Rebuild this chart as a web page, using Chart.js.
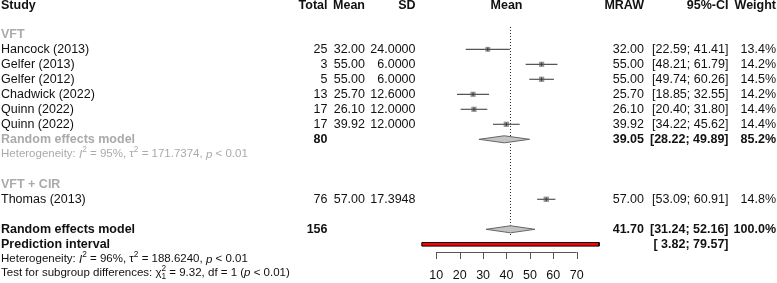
<!DOCTYPE html>
<html>
<head>
<meta charset="utf-8" />
<title>Forest plot</title>
<script src="https://cdn.jsdelivr.net/npm/chart.js@4.4.0/dist/chart.umd.min.js"></script>
<style>
    body { margin: 0; background: #fff; }
    canvas { display: block; }
</style>
</head>
<body>
<canvas id="chart" width="777" height="283"></canvas>
<script>
// Study level data
var studies = ['Hancock (2013)', 'Gelfer (2013)', 'Gelfer (2012)', 'Chadwick (2022)', 'Quinn (2022)', 'Quinn (2022)', 'Thomas (2013)'];
var groups = ['VFT', 'VFT', 'VFT', 'VFT', 'VFT', 'VFT', 'VFT + CIR'];
var totals = [25, 3, 5, 13, 17, 17, 76];
var means = [32.00, 55.00, 55.00, 25.70, 26.10, 39.92, 57.00];
var sds = [24.0000, 6.0000, 6.0000, 12.6000, 12.0000, 12.0000, 17.3948];
var ciLow = [22.59, 48.21, 49.74, 18.85, 20.40, 34.22, 53.09];
var ciHigh = [41.41, 61.79, 60.26, 32.55, 31.80, 45.62, 60.91];
var weights = [13.4, 14.2, 14.5, 14.2, 14.4, 14.4, 14.8];

// Pooled estimates
var subgroupTotal = 80;
var subgroupEst = [39.05, 28.22, 49.89];   // estimate, lower, upper
var subgroupWeight = 85.2;
var overallTotal = 156;
var overallEst = [41.70, 31.24, 52.16];
var overallWeight = 100.0;
var predInterval = [3.82, 79.57];

var axisTicks = [10, 20, 30, 40, 50, 60, 70];
var headers = ['Study', 'Total', 'Mean', 'SD', 'Mean', 'MRAW', '95%-CI', 'Weight'];

// Row layout (row 0 = "VFT" label, 15px per row)
var studyRows = [1, 2, 3, 4, 5, 6, 11];
var ROW_HEAD = -1.93, ROW_G1 = 0, ROW_SUB = 7, ROW_HET1 = 8, ROW_G2 = 10;
var ROW_ALL = 13, ROW_PI = 14, ROW_HET = 15, ROW_TEST = 15.9;

var GREY = '#aaaaaa';
var INK = '#111111';
var FONT = '"Liberation Sans", Arial, sans-serif';

function diamond(est, row, h) {
    return [
        {x: est[1], y: row}, {x: est[0], y: row - h},
        {x: est[2], y: row}, {x: est[0], y: row + h}, {x: est[1], y: row}
    ];
}

var datasets = [];

// reference line at the overall estimate
datasets.push({
    data: [{x: overallEst[0], y: -0.49}, {x: overallEst[0], y: 13.46}],
    showLine: true, borderColor: '#222', borderWidth: 1, borderDash: [1, 2],
    pointRadius: 0, order: 10
});

// squares
datasets.push({
    data: studies.map((s, i) => ({x: means[i], y: studyRows[i]})),
    pointStyle: 'rect',
    pointRadius: weights.map(w => w * 0.26),
    backgroundColor: '#9a9a9a', borderColor: '#9a9a9a', borderWidth: 0,
    order: 8
});

// confidence interval lines
studies.forEach((s, i) => {
    datasets.push({
        data: [{x: ciLow[i], y: studyRows[i]}, {x: ciHigh[i], y: studyRows[i]}],
        showLine: true, borderColor: '#555', borderWidth: 1.2,
        pointRadius: 0, order: 6
    });
});

// small mark at the point estimate
datasets.push({
    data: studies.map((s, i) => ({x: means[i], y: studyRows[i]})),
    pointStyle: 'line', rotation: 90, pointRadius: 1.8,
    borderColor: '#333', borderWidth: 1, order: 5
});

// diamonds
[[subgroupEst, ROW_SUB], [overallEst, ROW_ALL]].forEach(d => {
    datasets.push({
        data: diamond(d[0], d[1], 0.235),
        showLine: true, fill: 'shape', backgroundColor: '#c4c4c4',
        borderColor: '#666', borderWidth: 1, pointRadius: 0, order: 4
    });
});

// prediction interval bar
datasets.push({
    data: [
        {x: predInterval[0], y: ROW_PI - 0.12}, {x: predInterval[1], y: ROW_PI - 0.12},
        {x: predInterval[1], y: ROW_PI + 0.12}, {x: predInterval[0], y: ROW_PI + 0.12},
        {x: predInterval[0], y: ROW_PI - 0.12}
    ],
    showLine: true, fill: 'shape', backgroundColor: '#ff0000',
    borderColor: '#000', borderWidth: 1, pointRadius: 0, order: 3
});

function drawRich(ctx, x, y, parts, size, color, align) {
    let total = 0;
    parts.forEach(p => {
        let fs = (p.sup || p.sub) ? size * 0.72 : size;
        ctx.font = (p.italic ? 'italic ' : '') + (p.bold ? 'bold ' : '') + fs + 'px ' + FONT;
        p.w = ctx.measureText(p.t).width;
        if (!p.stack) total += p.w;
    });
    let cx = align === 'right' ? x - total : x;
    ctx.fillStyle = color;
    ctx.textAlign = 'left';
    ctx.textBaseline = 'middle';
    parts.forEach(p => {
        let fs = (p.sup || p.sub) ? size * 0.72 : size;
        ctx.font = (p.italic ? 'italic ' : '') + (p.bold ? 'bold ' : '') + fs + 'px ' + FONT;
        let dy = p.sup ? -size * 0.38 : (p.sub ? size * 0.3 : 0);
        ctx.fillText(p.t, cx, y + dy);
        if (!p.stack) cx += p.w;
    });
}

function text(ctx, t, x, y, align, bold, color, size) {
    ctx.font = (bold ? 'bold ' : '') + (size || 12.5) + 'px ' + FONT;
    ctx.fillStyle = color || INK;
    ctx.textAlign = align;
    ctx.textBaseline = 'middle';
    ctx.fillText(t, x, y);
}

var tablePlugin = {
    id: 'table',
    afterDraw(chart) {
        let ctx = chart.ctx;
        let xs = chart.scales.x, ys = chart.scales.y;
        let Y = r => ys.getPixelForValue(r);
        let col = {study: 1, total: 327.5, mean: 365, sd: 415.5, mraw: 644, ci: 728.5, weight: 776};
        let f2 = v => v.toFixed(2);
        let ci = (lo, hi) => '[' + (lo < 10 ? ' ' : '') + f2(lo) + '; ' + f2(hi) + ']';
        ctx.save();

        // header
        let hy = Y(ROW_HEAD);
        text(ctx, headers[0], col.study, hy, 'left', true);
        text(ctx, headers[1], col.total, hy, 'right', true);
        text(ctx, headers[2], col.mean, hy, 'right', true);
        text(ctx, headers[3], col.sd, hy, 'right', true);
        text(ctx, headers[4], xs.getPixelForValue((axisTicks[0] + axisTicks[axisTicks.length - 1]) / 2), hy, 'center', true);
        text(ctx, headers[5], col.mraw, hy, 'right', true);
        text(ctx, headers[6], col.ci, hy, 'right', true);
        text(ctx, headers[7], col.weight, hy, 'right', true);

        // group labels
        text(ctx, groups[0], col.study, Y(ROW_G1), 'left', true, GREY);
        text(ctx, groups[6], col.study, Y(ROW_G2), 'left', true, GREY);

        // studies
        studies.forEach((s, i) => {
            let y = Y(studyRows[i]);
            text(ctx, s, col.study, y, 'left');
            text(ctx, String(totals[i]), col.total, y, 'right');
            text(ctx, f2(means[i]), col.mean, y, 'right');
            text(ctx, sds[i].toFixed(4), col.sd, y, 'right');
            text(ctx, f2(means[i]), col.mraw, y, 'right');
            text(ctx, ci(ciLow[i], ciHigh[i]), col.ci, y, 'right');
            text(ctx, weights[i].toFixed(1) + '%', col.weight, y, 'right');
        });

        // subgroup pooled row
        let sy = Y(ROW_SUB);
        text(ctx, 'Random effects model', col.study, sy, 'left', true, GREY);
        text(ctx, String(subgroupTotal), col.total, sy, 'right', true);
        text(ctx, f2(subgroupEst[0]), col.mraw, sy, 'right', true);
        text(ctx, ci(subgroupEst[1], subgroupEst[2]), col.ci, sy, 'right', true);
        text(ctx, subgroupWeight.toFixed(1) + '%', col.weight, sy, 'right', true);
        drawRich(ctx, col.study, Y(ROW_HET1), [
            {t: 'Heterogeneity: '}, {t: 'I', italic: true}, {t: '2', sup: true},
            {t: ' = 95%, \u03c4'}, {t: '2', sup: true}, {t: ' = 171.7374, '},
            {t: 'p', italic: true}, {t: ' < 0.01'}
        ], 11.5, GREY);

        // overall rows
        let oy = Y(ROW_ALL);
        text(ctx, 'Random effects model', col.study, oy, 'left', true);
        text(ctx, String(overallTotal), col.total, oy, 'right', true);
        text(ctx, f2(overallEst[0]), col.mraw, oy, 'right', true);
        text(ctx, ci(overallEst[1], overallEst[2]), col.ci, oy, 'right', true);
        text(ctx, overallWeight.toFixed(1) + '%', col.weight, oy, 'right', true);
        let py = Y(ROW_PI);
        text(ctx, 'Prediction interval', col.study, py, 'left', true);
        text(ctx, ci(predInterval[0], predInterval[1]), col.ci, py, 'right', true);
        drawRich(ctx, col.study, Y(ROW_HET), [
            {t: 'Heterogeneity: '}, {t: 'I', italic: true}, {t: '2', sup: true},
            {t: ' = 96%, \u03c4'}, {t: '2', sup: true}, {t: ' = 188.6240, '},
            {t: 'p', italic: true}, {t: ' < 0.01'}
        ], 11.5, INK);
        drawRich(ctx, col.study, Y(ROW_TEST), [
            {t: 'Test for subgroup differences: \u03c7'}, {t: '2', sup: true, stack: true},
            {t: '1', sub: true}, {t: ' = 9.32, df = 1 ('},
            {t: 'p', italic: true}, {t: ' < 0.01)'}
        ], 11.5, INK);

        // x axis
        let ax = Math.round(Y(14.53));
        let x0 = xs.getPixelForValue(axisTicks[0]);
        let x1 = xs.getPixelForValue(axisTicks[axisTicks.length - 1]);
        ctx.strokeStyle = '#555';
        ctx.lineWidth = 1;
        ctx.beginPath();
        ctx.moveTo(x0, ax + 0.5);
        ctx.lineTo(x1, ax + 0.5);
        axisTicks.forEach(t => {
            let tx = Math.round(xs.getPixelForValue(t)) + 0.5;
            ctx.moveTo(tx, ax);
            ctx.lineTo(tx, ax + 7);
        });
        ctx.stroke();
        axisTicks.forEach(t => {
            text(ctx, String(t), xs.getPixelForValue(t), Y(16.05), 'center', false, INK);
        });
        ctx.restore();
    }
};

var chart = new Chart(document.getElementById('chart').getContext('2d'), {
    type: 'scatter',
    data: {datasets: datasets},
    options: {
        responsive: false,
        animation: false,
        events: [],
        layout: {padding: 0, autoPadding: false},
        plugins: {legend: {display: false}, tooltip: {enabled: false}},
        scales: {
            x: {type: 'linear', min: -176.45, max: 155.6, display: false},
            y: {type: 'linear', min: -2.287, max: 16.58, reverse: true, display: false}
        }
    },
    plugins: [tablePlugin]
});
</script>
</body>
</html>
